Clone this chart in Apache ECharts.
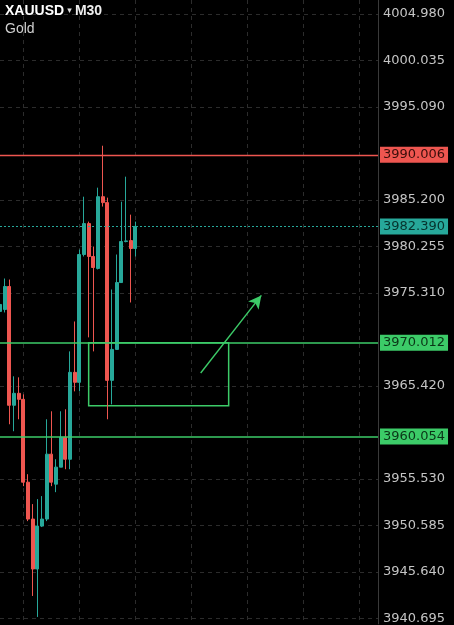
<!DOCTYPE html>
<html>
<head>
<meta charset="utf-8">
<script src="https://cdn.jsdelivr.net/npm/echarts@6/dist/echarts.min.js"></script>
<style>
  html, body { margin: 0; padding: 0; background: #000; }
  #chart { width: 454px; height: 625px; }
</style>
</head>
<body>
<div id="chart"></div>
<script>
// M30 candles, oldest first
const opens  = [3973.35, 3973.56, 3976.00, 3963.37, 3964.64, 3964.00, 3955.19, 3951.27, 3945.96, 3950.52,
                3951.27, 3958.17, 3954.98, 3956.79, 3959.97, 3957.63, 3966.87, 3965.81, 3979.40, 3982.69,
                3979.19, 3977.92, 3985.55, 3984.92, 3966.02, 3969.31, 3976.42, 3980.78, 3980.88, 3980.04]
const closes = [3974.09, 3976.00, 3963.37, 3964.64, 3964.00, 3955.19, 3951.27, 3945.96, 3950.52, 3951.27,
                3958.17, 3955.19, 3956.79, 3959.97, 3957.63, 3966.87, 3965.81, 3979.40, 3982.69, 3979.19,
                3978.02, 3985.55, 3984.92, 3966.02, 3969.31, 3976.42, 3980.78, 3980.85, 3980.04, 3982.39]
const lows   = [3973.13, 3973.24, 3961.35, 3960.61, 3961.88, 3954.77, 3951.05, 3943.09, 3940.86, 3950.42,
                3951.05, 3954.77, 3954.13, 3956.79, 3956.57, 3956.57, 3964.85, 3964.85, 3979.19, 3970.59,
                3969.10, 3977.81, 3984.50, 3961.88, 3963.47, 3969.31, 3976.53, 3980.70, 3974.30, 3979.19]
const highs  = [3974.30, 3976.85, 3976.74, 3966.45, 3966.34, 3964.53, 3956.04, 3952.86, 3953.39, 3953.71,
                3961.88, 3962.73, 3957.63, 3962.73, 3962.94, 3969.10, 3972.28, 3979.93, 3985.55, 3982.90,
                3980.25, 3986.51, 3990.97, 3985.45, 3975.68, 3979.40, 3985.02, 3987.68, 3983.64, 3982.90]

// price scale labels on the right
const tickValues = [4004.980, 4000.035, 3995.090, 3985.200, 3980.255, 3975.310,
                    3965.420, 3955.530, 3950.585, 3945.640, 3940.695]

// horizontal levels drawn on the chart
const resistance = 3990.006
const lastPrice = 3982.390
const supportTop = 3970.012
const supportLow = 3960.054

// box and arrow annotation (slot index, price)
const boxFrom = [19, 3970.012]
const boxTo = [49, 3963.32]
const arrowFrom = [43, 3966.8]
const arrowTo = [56, 3975.05]

const slotCount = 82
const slots = Array.from({ length: slotCount }, (_, i) => String(i))

const RED = '#ee5650'
const TEAL = '#27a89a'
const GREEN = '#3ccb68'
const GRID = '#2c2c2c'
const FONT = 'DejaVu Sans'

const candles = opens.map((o, i) => [o, closes[i], lows[i], highs[i]])

const level = (value, color, textColor, type, width) => ({
    yAxis: value,
    lineStyle: { color: color, width: width || 1.3, type: type || 'solid' },
    label: {
        show: true,
        position: 'end',
        distance: 2,
        formatter: p => Number(p.value).toFixed(3),
        backgroundColor: color,
        color: textColor,
        fontFamily: FONT,
        fontSize: 13,
        padding: [2, 3, 1, 3]
    }
})

const chart = echarts.init(document.getElementById('chart'))
chart.setOption({
    backgroundColor: '#000',
    animation: false,
    title: {
        left: 5,
        top: 4,
        padding: 0,
        itemGap: 4,
        text: '{s|XAUUSD}{t| ▾ }{m|M30}',
        textStyle: {
            rich: {
                s: { color: '#fff', fontSize: 14, fontWeight: 600, fontFamily: 'Liberation Sans' },
                t: { color: '#ddd', fontSize: 9, fontFamily: 'DejaVu Sans' },
                m: { color: '#eee', fontSize: 14, fontFamily: 'Liberation Sans' }
            }
        },
        subtext: 'Gold',
        subtextStyle: { color: '#d0d0d0', fontSize: 14, fontFamily: 'Liberation Sans' }
    },
    grid: { left: 0, right: 76, top: 0, bottom: 0 },
    xAxis: {
        type: 'category',
        data: slots,
        boundaryGap: false,
        axisLine: { show: false },
        axisTick: { show: false },
        axisLabel: { show: false },
        splitLine: {
            show: true,
            interval: idx => idx % 12 === 5,
            lineStyle: { color: GRID, type: [4, 4] }
        }
    },
    yAxis: {
        type: 'value',
        position: 'right',
        min: 3940.122,
        max: 4006.466,
        axisLine: { show: true, lineStyle: { color: '#3a3a3a' } },
        axisTick: { show: false, customValues: tickValues },
        axisLabel: {
            customValues: tickValues,
            formatter: v => v.toFixed(3),
            color: '#c4c4c4',
            fontFamily: FONT,
            fontSize: 13,
            margin: 5
        },
        splitLine: { show: true, lineStyle: { color: GRID, type: [4, 4] } }
    },
    series: [{
        type: 'candlestick',
        data: candles,
        barWidth: 3.7,
        clip: false,
        itemStyle: {
            color: TEAL,
            color0: RED,
            borderColor: TEAL,
            borderColor0: RED,
            borderWidth: 1
        },
        markArea: {
            silent: true,
            itemStyle: { color: 'rgba(0,0,0,0)', borderColor: GREEN, borderWidth: 1.5 },
            data: [[{ coord: boxFrom }, { coord: boxTo }]]
        },
        markLine: {
            silent: true,
            precision: 3,
            symbol: ['none', 'none'],
            animation: false,
            data: [
                level(resistance, RED, '#3a0e0b'),
                level(lastPrice, TEAL, '#06332d', [2, 2], 1),
                level(supportTop, GREEN, '#0b3517', 'solid', 1.5),
                level(supportLow, GREEN, '#0b3517', 'solid', 1.5),
                [
                    { coord: arrowFrom, symbol: 'none', lineStyle: { color: GREEN, width: 1.4, type: 'solid' }, label: { show: false } },
                    { coord: arrowTo, symbol: 'arrow', symbolSize: [10, 13] }
                ]
            ]
        }
    }]
})
</script>
</body>
</html>
